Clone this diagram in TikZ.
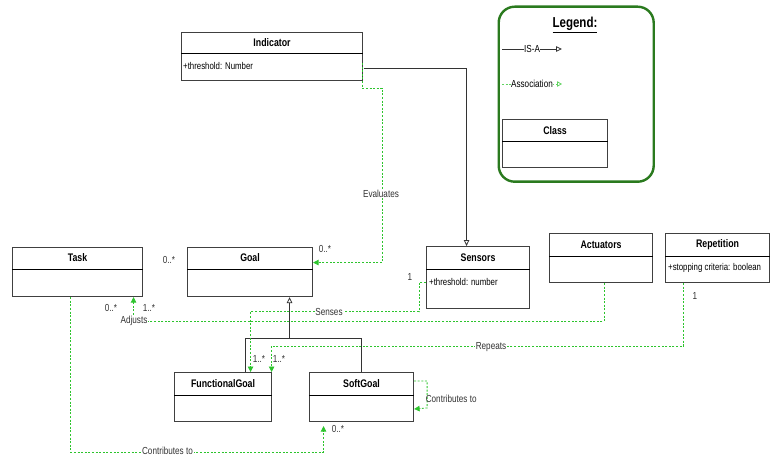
\documentclass[tikz,border=0pt]{standalone}
\usepackage{fontspec}
\setmainfont{Liberation Sans}[FakeStretch=0.8]
\usetikzlibrary{arrows.meta,calc}

\definecolor{assoc}{HTML}{2DC42D}
\definecolor{legendgreen}{HTML}{2A7A1E}
\definecolor{labelgray}{HTML}{333333}

\tikzset{
  classbox/.style={draw=black!75, line width=1.1pt, inner sep=0pt, anchor=north west, fill=white},
  classline/.style={draw=black, line width=1pt},
  titletext/.style={font=\fontsize{11}{12}\selectfont\bfseries, inner sep=0pt},
  attrtext/.style={font=\fontsize{9.8}{11}\selectfont, inner sep=0pt, anchor=west},
  lbl/.style={font=\fontsize{10.2}{11}\selectfont, text=labelgray, inner sep=0.6pt, fill=white},
  mult/.style={font=\fontsize{10.2}{11}\selectfont, text=labelgray, inner sep=0pt},
  isa/.style={draw=black!80, line width=0.8pt, -{Triangle[open, length=6pt, width=5.5pt]}},
  assocline/.style={draw=assoc, line width=0.8pt, dash pattern=on 2pt off 1.6pt,
    -{Triangle[length=5.5pt, width=5.5pt]}},
}

% UML class box: name, left, top, width, height, header height, title
\newcommand\umlclass[7]{%
  \node[classbox, minimum width=#4pt, minimum height=#5pt] (#1) at (#2,#3) {};
  \coordinate (#1-sl) at ([yshift=-#6pt]#1.north west);
  \coordinate (#1-sr) at ([yshift=-#6pt]#1.north east);
  \draw[classline] (#1-sl) -- (#1-sr);
  \node[titletext] (#1-title) at ($(#1.north)!0.5!(#1.north |- #1-sl)$) {#7};
}

\begin{document}
\begin{tikzpicture}[x=1pt, y=-1pt]
\useasboundingbox (0,0) rectangle (778,462);

% ---------- legend ----------
\node[draw=legendgreen, line width=2.4pt, rounded corners=16pt, minimum width=155pt,
      minimum height=175pt, inner sep=0pt, anchor=north west] (legend) at (497.5,5.5) {};
\node[font=\fontsize{14.4}{16}\selectfont\bfseries, inner sep=0pt] (legend-title)
      at (575,25) {\underline{Legend:}};
\coordinate (isa-a) at (502,49);
\coordinate (isa-b) at (562,49);
\draw[isa] (isa-a) -- (isa-b);
\node[font=\fontsize{10.2}{11}\selectfont, fill=white, inner sep=0.5pt] (isa-lbl) at (532,49) {IS-A};
\coordinate (as-a) at (502,84);
\coordinate (as-b) at (562,84);
\draw[draw=assoc!75, line width=0.8pt, dash pattern=on 2pt off 1.6pt,
      -{Triangle[open, length=5pt, width=5.5pt]}] (as-a) -- (as-b);
\node[font=\fontsize{10.2}{11}\selectfont, fill=white, inner sep=0.5pt] (as-lbl) at (532,84) {Association};
\umlclass{cls}{502}{119}{105}{48}{23}{Class}

% ---------- classes ----------
\umlclass{ind}{181}{32}{181}{48}{22}{Indicator}
\node[attrtext] (ind-attr) at ([xshift=2pt, yshift=-12pt]ind-sl) {+threshold: Number};

\umlclass{task}{12}{247}{130}{49}{22}{Task}
\umlclass{goal}{187}{247}{125}{49}{22}{Goal}

\umlclass{sens}{426}{246}{103}{62}{23}{Sensors}
\node[attrtext] (sens-attr) at ([xshift=3pt, yshift=-13pt]sens-sl) {+threshold: number};

\umlclass{act}{549}{233}{103}{49}{23}{Actuators}

\umlclass{rep}{665}{233}{104}{49}{23}{Repetition}
\node[attrtext] (rep-attr) at ([xshift=3pt, yshift=-12pt]rep-sl) {+stopping criteria: boolean};

\umlclass{fg}{174}{372}{97}{49}{23}{FunctionalGoal}
\umlclass{sg}{309}{372}{104}{49}{23}{SoftGoal}

% ---------- generalisation ----------
\draw[isa] ([xshift=0.5pt, yshift=-12pt]ind.east) -| ([xshift=-11.5pt]sens.north);
\coordinate (tree) at ([xshift=39.5pt, yshift=-41pt]goal.south);
\draw[isa] (tree) -- ([xshift=39.5pt]goal.south);
\draw[draw=black!80, line width=1pt] ([xshift=-27pt]fg.north east) |- (tree) -| (sg.north);

% ---------- associations ----------
% Evaluates
\draw[assocline] ([xshift=-1pt, yshift=18pt]ind.south east) |- ++(20,25)
      |- ([yshift=9.5pt]goal.east);
\node[lbl] (l-eval) at (381,194) {Evaluates};
\node[mult] (m-eval) at (325,249) {0..*};
\node[mult] (m-goal) at (169,260) {0..*};

% Senses
\draw[assocline] ([yshift=-5pt]sens.west) -| ++(-7,29) -| ([xshift=27.5pt]fg.north);
\node[lbl] (l-sens) at (329,312) {Senses};
\node[mult] (m-sens1) at (410,277) {1};
\node[mult] (m-sens2) at (259,359) {1..*};

% Adjusts
\draw[assocline] ([xshift=3pt]act.south) |- ([xshift=56pt, yshift=-24pt]task.south)
      -- ([xshift=56pt]task.south);
\node[lbl] (l-adj) at (134,321) {Adjusts};
\node[mult] (m-adj1) at (111,308) {0..*};
\node[mult] (m-adj2) at (149,308) {1..*};

% Repeats
\draw[assocline] ([xshift=-34pt]rep.south) |- ([xshift=-0.5pt, yshift=26pt]fg.north east)
      -- ([xshift=-0.5pt]fg.north east);
\node[lbl] (l-rep) at (491,347) {Repeats};
\node[mult] (m-rep1) at (695,296) {1};
\node[mult] (m-rep2) at (279,359) {1..*};

% SoftGoal contributes to itself
\draw[assocline] ([yshift=-9pt]sg.north east) -| ++(13,27) -- ([yshift=-37pt]sg.north east);
\node[lbl, fill=none, anchor=west] (l-self) at (425,399) {Contributes to};

% Task contributes to SoftGoal
\draw[assocline] ([xshift=-7pt]task.south) |- ([xshift=-38pt, yshift=-30pt]sg.south)
      -- ([xshift=-38pt, yshift=-4pt]sg.south);
\node[lbl] (l-contr) at (167.5,451) {Contributes to};
\node[mult] (m-contr) at (338,429) {0..*};
\end{tikzpicture}
\end{document}
